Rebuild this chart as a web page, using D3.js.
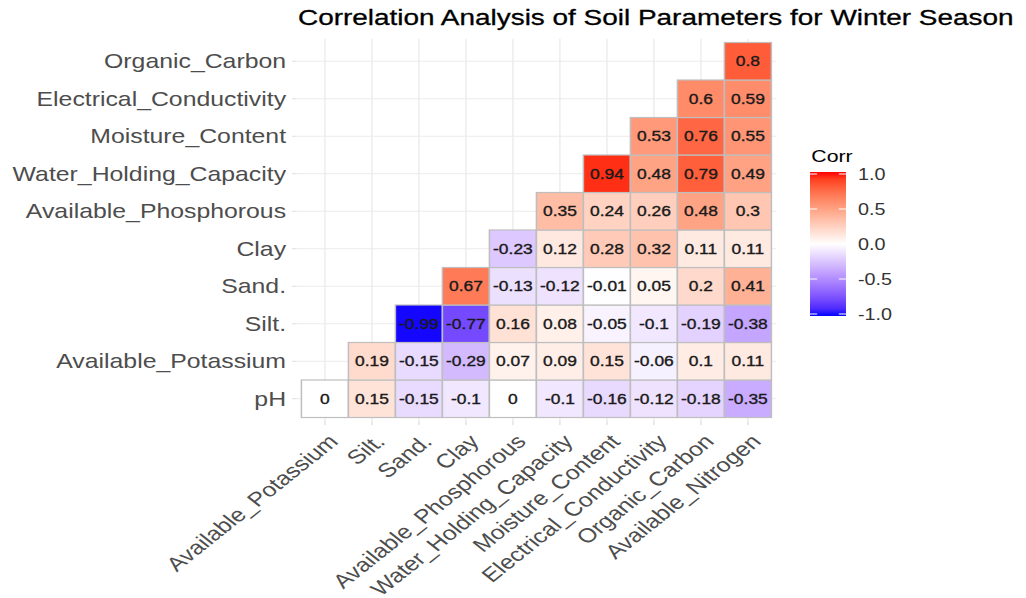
<!DOCTYPE html>
<html>
<head>
<meta charset="utf-8">
<script src="https://cdn.jsdelivr.net/npm/d3@7"></script>
<style>
  html, body { margin: 0; padding: 0; background: #fff; }
  svg { display: block; font-family: "Liberation Sans", Arial, sans-serif; }
</style>
</head>
<body>
<svg id="chart"></svg>
<script>
// Columns (left to right) and rows (bottom to top) of the lower triangle
const xLabels = ["Available_Potassium", "Silt.", "Sand.", "Clay", "Available_Phosphorous",
    "Water_Holding_Capacity", "Moisture_Content", "Electrical_Conductivity", "Organic_Carbon", "Available_Nitrogen"]
const yLabels = ["pH", "Available_Potassium", "Silt.", "Sand.", "Clay", "Available_Phosphorous",
    "Water_Holding_Capacity", "Moisture_Content", "Electrical_Conductivity", "Organic_Carbon"]

// One row per y label, values aligned with xLabels (null = empty)
const corrRows = [
    [0, 0.15, -0.15, -0.1, 0, -0.1, -0.16, -0.12, -0.18, -0.35],
    [null, 0.19, -0.15, -0.29, 0.07, 0.09, 0.15, -0.06, 0.1, 0.11],
    [null, null, -0.99, -0.77, 0.16, 0.08, -0.05, -0.1, -0.19, -0.38],
    [null, null, null, 0.67, -0.13, -0.12, -0.01, 0.05, 0.2, 0.41],
    [null, null, null, null, -0.23, 0.12, 0.28, 0.32, 0.11, 0.11],
    [null, null, null, null, null, 0.35, 0.24, 0.26, 0.48, 0.3],
    [null, null, null, null, null, null, 0.94, 0.48, 0.79, 0.49],
    [null, null, null, null, null, null, null, 0.53, 0.76, 0.55],
    [null, null, null, null, null, null, null, null, 0.6, 0.59],
    [null, null, null, null, null, null, null, null, null, 0.8]
]

const legendTicks = [-1, -0.5, 0, 0.5, 1]
const title = "Correlation Analysis of Soil Parameters for Winter Season"

// the picture is stretched sideways, so draw square cells and stretch the svg
const STRETCH = 1.2533
const W = 1026, H = 598
const VBW = W / STRETCH

const svg = d3.select("#chart")
    .attr("width", W)
    .attr("height", H)
    .attr("viewBox", `0 0 ${VBW} ${H}`)
    .attr("preserveAspectRatio", "none")

const x = d3.scaleBand().domain(xLabels).range([240.5, 615.5])
const y = d3.scaleBand().domain(yLabels.slice().reverse()).range([42.5, 417.5])
const pad = 0.1 * x.bandwidth()
const panel = {left: 240.5 - pad, right: 615.5 + pad, top: 42.5 - pad, bottom: 417.5 + pad}

const color = d3.scaleLinear()
    .domain([-1, 0, 1])
    .range(["blue", "white", "red"])
    .interpolate(d3.interpolateLab)

const cells = []
corrRows.forEach((row, i) => {
    row.forEach((v, j) => {
        if (v !== null) cells.push({row: yLabels[i], col: xLabels[j], value: v})
    })
})

// grid
const grid = svg.append("g").attr("class", "grid")
    .attr("stroke", "#ebebeb").attr("stroke-width", 1.1)
grid.selectAll("line.v").data(xLabels).join("line").attr("class", "v")
    .attr("x1", d => x(d) + x.bandwidth() / 2).attr("x2", d => x(d) + x.bandwidth() / 2)
    .attr("y1", panel.top).attr("y2", panel.bottom)
grid.selectAll("line.h").data(yLabels).join("line").attr("class", "h")
    .attr("y1", d => y(d) + y.bandwidth() / 2).attr("y2", d => y(d) + y.bandwidth() / 2)
    .attr("x1", panel.left).attr("x2", panel.right)

// ticks
const ticks = svg.append("g").attr("stroke", "#dcdcdc").attr("stroke-width", 1)
ticks.selectAll("line.yt").data(yLabels).join("line").attr("class", "yt")
    .attr("x1", panel.left - 3.7).attr("x2", panel.left)
    .attr("y1", d => y(d) + y.bandwidth() / 2).attr("y2", d => y(d) + y.bandwidth() / 2)
ticks.selectAll("line.xt").data(xLabels).join("line").attr("class", "xt")
    .attr("y1", panel.bottom).attr("y2", panel.bottom + 3.7)
    .attr("x1", d => x(d) + x.bandwidth() / 2).attr("x2", d => x(d) + x.bandwidth() / 2)

// tiles
svg.append("g").selectAll("rect").data(cells).join("rect")
    .attr("x", d => x(d.col))
    .attr("y", d => y(d.row))
    .attr("width", x.bandwidth())
    .attr("height", y.bandwidth())
    .attr("fill", d => color(d.value))
    .attr("stroke", "#bebebe")
    .attr("stroke-width", 1.2)

svg.append("g").selectAll("text").data(cells).join("text")
    .attr("x", d => x(d.col) + x.bandwidth() / 2)
    .attr("y", d => y(d.row) + y.bandwidth() / 2)
    .attr("dy", "0.36em")
    .attr("text-anchor", "middle")
    .attr("font-size", 13.9)
    .attr("fill", "#1a1a1a")
    .attr("stroke", "#1a1a1a")
    .attr("stroke-width", 0.35)
    .text(d => String(d.value))

// axis labels
svg.append("g").selectAll("text").data(yLabels).join("text")
    .attr("x", panel.left - 8.5)
    .attr("y", d => y(d) + y.bandwidth() / 2)
    .attr("dy", "0.36em")
    .attr("text-anchor", "end")
    .attr("font-size", 19.8)
    .attr("fill", "#4d4d4d")
    .text(d => d)

svg.append("g").selectAll("text").data(xLabels).join("text")
    .attr("transform", d => `translate(${x(d) + x.bandwidth() / 2 + 1},${panel.bottom + 11}) rotate(-45)`)
    .attr("dy", "0.75em")
    .attr("text-anchor", "end")
    .attr("font-size", 19.8)
    .attr("fill", "#4d4d4d")
    .text(d => d)

// title
svg.append("text")
    .attr("x", panel.left + 1)
    .attr("y", 25)
    .attr("font-size", 22.3)
    .attr("fill", "#000")
    .attr("stroke", "#000")
    .attr("stroke-width", 0.3)
    .text(title)

// legend
const leg = {x: 646.3, y: 172, w: 28.7, h: 144}
const ly = d3.scaleLinear().domain([-1, 1]).range([leg.y + leg.h - 2, leg.y + 2])

const grad = svg.append("defs").append("linearGradient")
    .attr("id", "corr-grad")
    .attr("x1", 0).attr("x2", 0).attr("y1", 1).attr("y2", 0)
grad.selectAll("stop").data(d3.range(0, 1.0001, 0.05)).join("stop")
    .attr("offset", d => d)
    .attr("stop-color", d => color(-1 + 2 * d))

svg.append("text")
    .attr("x", leg.x + 1)
    .attr("y", 162)
    .attr("font-size", 17)
    .attr("fill", "#000")
    .text("Corr")

svg.append("rect")
    .attr("x", leg.x).attr("y", leg.y)
    .attr("width", leg.w).attr("height", leg.h)
    .attr("fill", "url(#corr-grad)")

const lt = svg.append("g").attr("stroke", "#fff").attr("stroke-width", 1)
lt.selectAll("line.l").data(legendTicks).join("line").attr("class", "l")
    .attr("x1", leg.x).attr("x2", leg.x + leg.w / 5)
    .attr("y1", d => ly(d)).attr("y2", d => ly(d))
lt.selectAll("line.r").data(legendTicks).join("line").attr("class", "r")
    .attr("x1", leg.x + leg.w * 4 / 5).attr("x2", leg.x + leg.w)
    .attr("y1", d => ly(d)).attr("y2", d => ly(d))

svg.append("g").selectAll("text").data(legendTicks).join("text")
    .attr("x", leg.x + leg.w + 9.5)
    .attr("y", d => ly(d))
    .attr("dy", "0.36em")
    .attr("font-size", 15.8)
    .attr("fill", "#333")
    .text(d => d.toFixed(1))
</script>
</body>
</html>
